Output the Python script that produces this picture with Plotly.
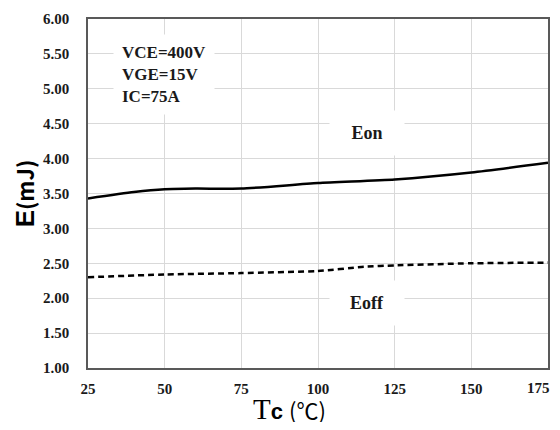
import plotly.graph_objects as go

# Data
temp_eon = [25, 40, 50, 60, 75, 100, 125, 150, 175]
eon = [3.43, 3.52, 3.56, 3.57, 3.57, 3.65, 3.70, 3.80, 3.94]
temp_eoff = [25, 50, 75, 100, 115, 125, 150, 175]
eoff = [2.30, 2.34, 2.36, 2.39, 2.45, 2.47, 2.50, 2.51]

x_ticks = [25, 50, 75, 100, 125, 150, 175]
x_tick_labels = ["25", "50", "75", "100", "125", "150", "175"]
y_ticks = [1.0, 1.5, 2.0, 2.5, 3.0, 3.5, 4.0, 4.5, 5.0, 5.5, 6.0]
y_tick_labels = ["1.00", "1.50", "2.00", "2.50", "3.00", "3.50", "4.00", "4.50", "5.00", "5.50", "6.00"]
conditions = ["VCE=400V", "VGE=15V", "IC=75A"]

serif = "Liberation Serif, Times New Roman, serif"

fig = go.Figure()
fig.add_trace(go.Scatter(x=temp_eon, y=eon, mode="lines", name="Eon",
                         line=dict(color="black", width=2.5, shape="spline", smoothing=0.6)))
fig.add_trace(go.Scatter(x=temp_eoff, y=eoff, mode="lines", name="Eoff",
                         line=dict(color="black", width=2.5, dash="6px,4px", shape="spline", smoothing=0.6)))

fig.add_annotation(x=33, y=5.21, xref="x", yref="y", xanchor="left", align="left",
                   text="<br>".join("<b>%s</b>" % c for c in conditions), showarrow=False,
                   font=dict(family=serif, size=17, color="#1a1a1a"),
                   bgcolor="white", borderpad=8)
fig.add_annotation(x=116, y=4.36, xref="x", yref="y", text="<b>Eon</b>", showarrow=False,
                   font=dict(family=serif, size=18, color="#1a1a1a"),
                   bgcolor="white", width=72, height=42)
fig.add_annotation(x=116, y=1.93, xref="x", yref="y", text="<b>Eoff</b>", showarrow=False,
                   font=dict(family=serif, size=18, color="#1a1a1a"),
                   bgcolor="white", width=72, height=42)

# last x tick label, right-aligned so it stays inside the page
fig.add_annotation(x=x_ticks[-1], y=0, xref="x", yref="paper", xanchor="right", yanchor="middle",
                   xshift=4, yshift=-20, showarrow=False, text="<b>%s</b>" % x_tick_labels[-1],
                   font=dict(family=serif, size=15, color="#1a1a1a"))

# x-axis title (placed slightly left of centre, as in the reference)
fig.add_annotation(x=0.437, y=0, xref="paper", yref="paper", yanchor="middle", yshift=-41,
                   showarrow=False,
                   text="<span style='font-family:Liberation Serif;font-size:29px'>T</span>"
                        "<span style='font-family:Liberation Sans;font-weight:bold;font-size:22px'>c </span>"
                        "<span style='font-family:Noto Sans CJK JP;font-size:22px'>(℃)</span>",
                   font=dict(color="black", size=22))

fig.update_layout(
    width=544, height=414,
    margin=dict(l=80, r=4, t=11, b=54),
    paper_bgcolor="white", plot_bgcolor="white",
    showlegend=False,
    xaxis=dict(range=[25, 175], tickvals=x_ticks,
               ticktext=["<b>%s</b>" % t for t in x_tick_labels[:-1]] + [""],
               showgrid=True, gridcolor="#d9d9d9", gridwidth=1, automargin=False,
               showline=True, linecolor="#595959", linewidth=1.5, mirror=True, zeroline=False,
               ticks="", ticklabelstandoff=6, ticklabeloverflow="allow",
               tickfont=dict(family=serif, size=15, color="#1a1a1a")),
    yaxis=dict(range=[1, 6], tickvals=y_ticks, ticktext=["<b>%s</b>" % t for t in y_tick_labels],
               showgrid=True, gridcolor="#d9d9d9", automargin=False,
               gridwidth=1, showline=True, linecolor="#595959", linewidth=1.5, mirror=True, zeroline=False,
               ticks="", ticklabelstandoff=14, ticklabeloverflow="allow",
               tickfont=dict(family=serif, size=15, color="#1a1a1a"),
               title=dict(text="<span style='font-family:Liberation Sans;font-weight:bold;font-size:26px'>E</span>"
                               "<span style='font-family:Noto Sans CJK JP;font-weight:bold;font-size:22px'>(mJ)</span>",
                          font=dict(color="black", size=22), standoff=12)),
)

fig.write_html("out.html")
